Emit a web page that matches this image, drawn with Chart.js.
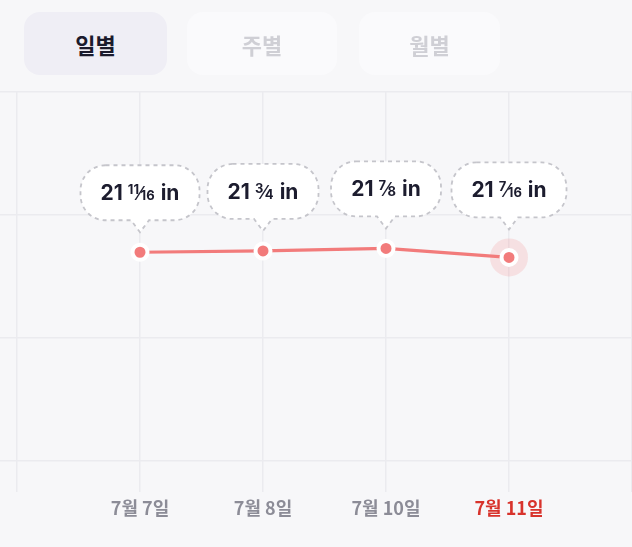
<!DOCTYPE html>
<html>
<head>
<meta charset="utf-8">
<script src="https://cdn.jsdelivr.net/npm/chart.js@4.4.1/dist/chart.umd.min.js"></script>
<style>
  html,body{margin:0;padding:0;background:#f7f7f9;width:632px;height:547px;overflow:hidden;}
  #wrap{position:absolute;left:0;top:0;width:632px;height:547px;}
  .tab{position:absolute;top:12px;height:63px;border-radius:16px;display:flex;align-items:center;justify-content:center;
       font-family:"Noto Sans CJK KR","Noto Sans",sans-serif;font-weight:700;font-size:22px;}
  #t1{left:24px;width:143px;background:#efeef5;color:#1b1b2c;}
  #t2{left:187px;width:150px;background:#fafafc;color:#cfcfd5;}
  #t3{left:359px;width:141px;background:#fafafc;color:#cfcfd5;}
</style>
</head>
<body>
<div id="wrap"><canvas id="c" width="632" height="547"></canvas></div>
<div class="tab" id="t1">일별</div>
<div class="tab" id="t2">주별</div>
<div class="tab" id="t3">월별</div>
<script>
// ---- data ----
const dates = ["7월 7일", "7월 8일", "7월 10일", "7월 11일"];
const heights = [21.6875, 21.75, 21.875, 21.4375]; // inches
const unit = "in";
const yGridValues = [11.5, 17.5, 23.5, 29.5];
const activeIndex = 3;

const LINE = '#f27b7b';
const FONT = 'Inter, "Noto Sans", sans-serif';

function toFraction(v){
  const whole = Math.floor(v);
  let n = Math.round((v - whole) * 16), d = 16;
  while (n && n % 2 === 0 && d > 1) { n /= 2; d /= 2; }
  return {whole: String(whole), num: n ? String(n) : '', den: n ? String(d) : ''};
}

const points = heights.map((h, i) => ({x: i + 1, y: h}));

const bubblePlugin = {
  id: 'bubbles',
  afterDatasetsDraw(chart){
    const ctx = chart.ctx;
    const meta = chart.getDatasetMeta(0);
    meta.data.forEach((pt, i) => {
      const f = toFraction(heights[i]);
      const bigF = '700 21px ' + FONT, smallF = '700 13px ' + FONT, slashF = '500 18px ' + FONT;
      ctx.save();
      ctx.font = bigF; const wW = ctx.measureText(f.whole).width; const wIn = ctx.measureText(unit).width;
      ctx.font = smallF; const wN = ctx.measureText(f.num).width; const wD = ctx.measureText(f.den).width;
      ctx.font = slashF; const wS = ctx.measureText('\u2044').width;
      const gap1 = 5, gap2 = 6;
      const fracW = f.num ? (wN + wS + wD - 2) : 0;
      const textW = wW + (f.num ? gap1 + fracW : 0) + gap2 + wIn;
      const w = Math.round(textW + 40), h = 55, r = 25;
      const cx = pt.x;
      const tipY = pt.y - (i === activeIndex ? 28 : 20);
      const bottom = tipY - 12, top = bottom - h, left = cx - w / 2, right = cx + w / 2;
      ctx.beginPath();
      ctx.moveTo(left + r, top);
      ctx.lineTo(right - r, top);
      ctx.arcTo(right, top, right, top + r, r);
      ctx.lineTo(right, bottom - r);
      ctx.arcTo(right, bottom, right - r, bottom, r);
      ctx.lineTo(cx + 9, bottom);
      ctx.lineTo(cx, tipY);
      ctx.lineTo(cx - 9, bottom);
      ctx.lineTo(left + r, bottom);
      ctx.arcTo(left, bottom, left, bottom - r, r);
      ctx.lineTo(left, top + r);
      ctx.arcTo(left, top, left + r, top, r);
      ctx.closePath();
      ctx.fillStyle = '#ffffff';
      ctx.fill();
      ctx.setLineDash([4, 4]);
      ctx.lineWidth = 1.8;
      ctx.strokeStyle = '#c5c5cb';
      ctx.stroke();
      ctx.setLineDash([]);
      // text
      const base = top + 35;
      let x = cx - textW / 2;
      ctx.fillStyle = '#1c1c2e';
      ctx.textBaseline = 'alphabetic';
      ctx.textAlign = 'left';
      ctx.font = bigF; ctx.fillText(f.whole, x, base); x += wW;
      if (f.num) {
        x += gap1;
        ctx.font = smallF; ctx.fillText(f.num, x, base - 6); x += wN - 1;
        ctx.font = slashF; ctx.fillText('\u2044', x, base); x += wS - 1;
        ctx.font = smallF; ctx.fillText(f.den, x, base); x += wD;
      }
      x += gap2;
      ctx.font = bigF; ctx.fillText(unit, x, base);
      ctx.restore();
    });
  }
};

new Chart(document.getElementById('c'), {
  type: 'line',
  data: {
    datasets: [
      {
        data: points,
        borderColor: LINE,
        borderWidth: 3.2,
        pointRadius: 7.5,
        pointBorderWidth: 4,
        pointBackgroundColor: LINE,
        pointBorderColor: '#ffffff',
        pointHoverRadius: 7.5,
        tension: 0,
        order: 1
      },
      {
        data: points,
        showLine: false,
        pointRadius: points.map((p, i) => i === activeIndex ? 19 : 0),
        pointBackgroundColor: 'rgba(242,123,123,0.18)',
        pointBorderWidth: 0,
        order: 2
      }
    ]
  },
  options: {
    responsive: false,
    animation: false,
    devicePixelRatio: 1,
    layout: {autoPadding: false, padding: {top: 92, left: 0, right: 0, bottom: 0}},
    plugins: {legend: {display: false}, tooltip: {enabled: false}},
    events: [],
    scales: {
      x: {
        type: 'linear',
        min: 0, max: 5,
        afterBuildTicks: s => { s.ticks = [0,1,2,3,4,5].map(v => ({value: v})); },
        afterFit: s => { s.height = 55; s.paddingLeft = 0; s.paddingRight = 0; },
        border: {display: false},
        grid: {color: '#ebebef', lineWidth: 1.5, drawTicks: false},
        ticks: {
          autoSkip: false, maxRotation: 0, padding: 5,
          font: {family: '"Noto Sans CJK KR", sans-serif', size: 18, weight: '700'},
          color: c => c.tick && c.tick.value === activeIndex + 1 ? '#d8332c' : '#8c8c97',
          callback: v => (v >= 1 && v <= dates.length) ? dates[v - 1] : ''
        }
      },
      y: {
        type: 'linear',
        min: 10, max: 29.5,
        afterBuildTicks: s => { s.ticks = yGridValues.map(v => ({value: v})); },
        afterFit: s => { s.width = 17; s.paddingTop = 0; s.paddingBottom = 0; },
        border: {display: false},
        grid: {color: '#ebebef', lineWidth: 1.5, drawTicks: true, tickLength: 17},
        ticks: {display: false}
      }
    }
  },
  plugins: [bubblePlugin]
});
</script>
</body>
</html>
